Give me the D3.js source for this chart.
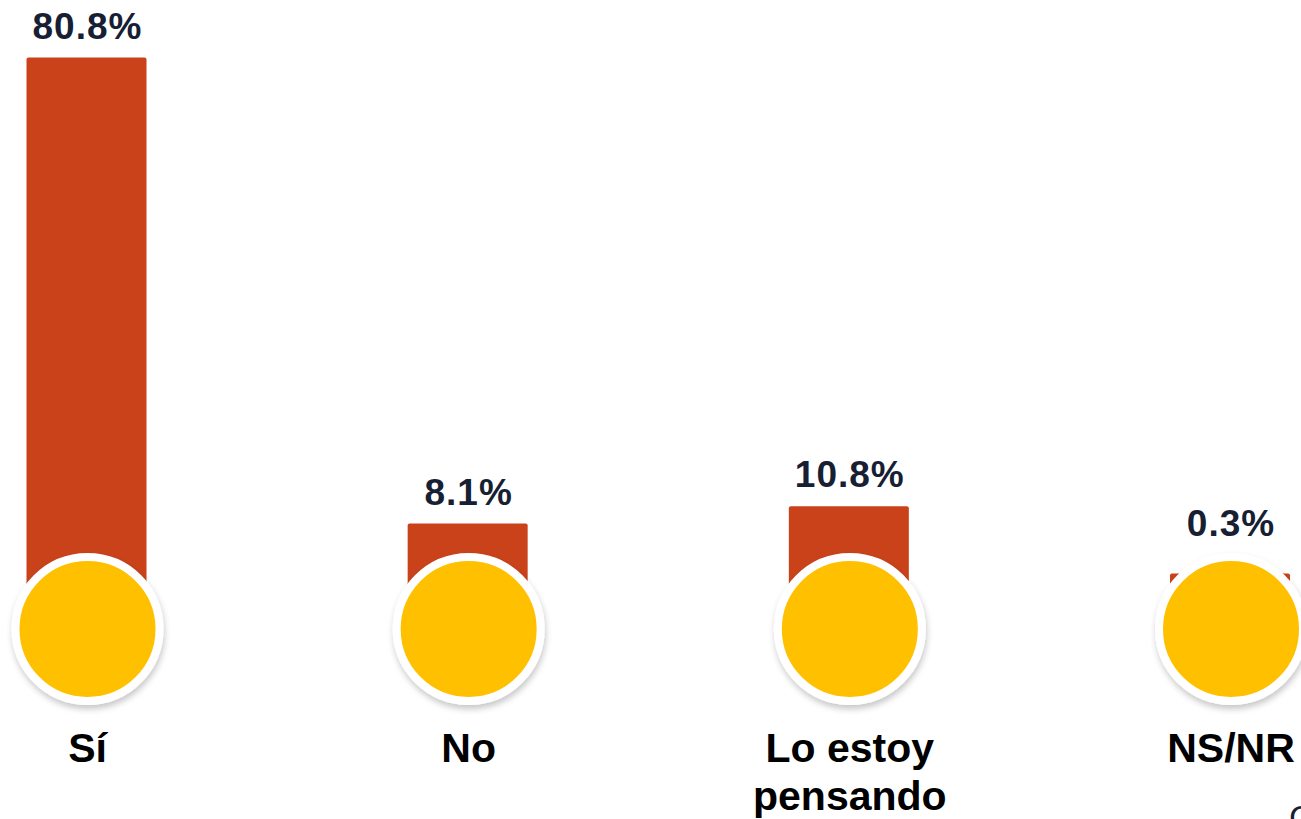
<!DOCTYPE html>
<html>
<head>
<meta charset="utf-8">
<script src="https://cdn.jsdelivr.net/npm/d3@7"></script>
<style>
  html, body { margin: 0; padding: 0; background: #ffffff; }
  svg { display: block; }
</style>
</head>
<body>
<svg id="chart" width="1301" height="819"></svg>
<script>
// ---- data ----
const categories = ["Sí", "No", "Lo estoy pensando", "NS/NR"];
const categoryLines = [["Sí"], ["No"], ["Lo estoy", "pensando"], ["NS/NR"]];
const values = [80.8, 8.1, 10.8, 0.3];
const valueLabels = ["80.8%", "8.1%", "10.8%", "0.3%"];
const cornerNote = "C";

// ---- layout ----
const W = 1301, H = 819;
const barColor = "#C9421A";
const dotColor = "#FFC000";
const labelColor = "#172033";
const barWidth = 120;
const circleCY = 629, circleR = 72, ringW = 8;

const svg = d3.select("#chart");

const defs = svg.append("defs");
const f = defs.append("filter").attr("id", "shadow")
  .attr("x", "-30%").attr("y", "-30%").attr("width", "160%").attr("height", "160%");
f.append("feDropShadow").attr("dx", 1).attr("dy", 4).attr("stdDeviation", 3)
  .attr("flood-color", "#000").attr("flood-opacity", 0.22);

const x = d3.scalePoint().domain(categories).range([86.5, 1230]);
const y = d3.scaleLinear().domain([0, d3.max(values)]).range([575.5, 57.5]);

const data = categories.map((c, i) => ({ c, v: values[i], label: valueLabels[i], lines: categoryLines[i] }));

// bars (extend down behind the circles)
svg.append("g").selectAll("rect").data(data).join("rect")
  .attr("x", d => x(d.c) - barWidth / 2)
  .attr("y", d => y(d.v))
  .attr("width", barWidth)
  .attr("height", d => circleCY - y(d.v))
  .attr("rx", 2)
  .attr("fill", barColor);

// value labels
svg.append("g").selectAll("text").data(data).join("text")
  .attr("x", d => x(d.c) + 1)
  .attr("y", d => Math.min(y(d.v) - 19, circleCY - circleR - ringW / 2 - 17))
  .attr("text-anchor", "middle")
  .attr("font-family", "'Liberation Sans', Arial, sans-serif")
  .attr("font-weight", "bold")
  .attr("font-size", 37)
  .attr("letter-spacing", 1)
  .attr("fill", labelColor)
  .text(d => d.label);

// circles
svg.append("g").selectAll("circle").data(data).join("circle")
  .attr("cx", d => x(d.c) + 1)
  .attr("cy", circleCY)
  .attr("r", circleR)
  .attr("fill", dotColor)
  .attr("stroke", "#ffffff")
  .attr("stroke-width", ringW)
  .attr("filter", "url(#shadow)");

// category labels
const cat = svg.append("g").selectAll("text").data(data).join("text")
  .attr("x", d => x(d.c) + 1)
  .attr("y", 762)
  .attr("text-anchor", "middle")
  .attr("font-family", "'Liberation Sans', Arial, sans-serif")
  .attr("font-weight", "bold")
  .attr("font-size", 41)
  .attr("fill", "#000000");
cat.selectAll("tspan").data(d => d.lines.map(l => ({ l, cx: x(d.c) + 1 }))).join("tspan")
  .attr("x", t => t.cx)
  .attr("dy", (t, i) => i === 0 ? 0 : 48)
  .text(t => t.l);

// cropped corner note
svg.append("text")
  .attr("x", 1289).attr("y", 829)
  .attr("font-family", "'Liberation Sans', Arial, sans-serif")
  .attr("font-size", 34)
  .attr("fill", labelColor)
  .text(cornerNote);
</script>
</body>
</html>
